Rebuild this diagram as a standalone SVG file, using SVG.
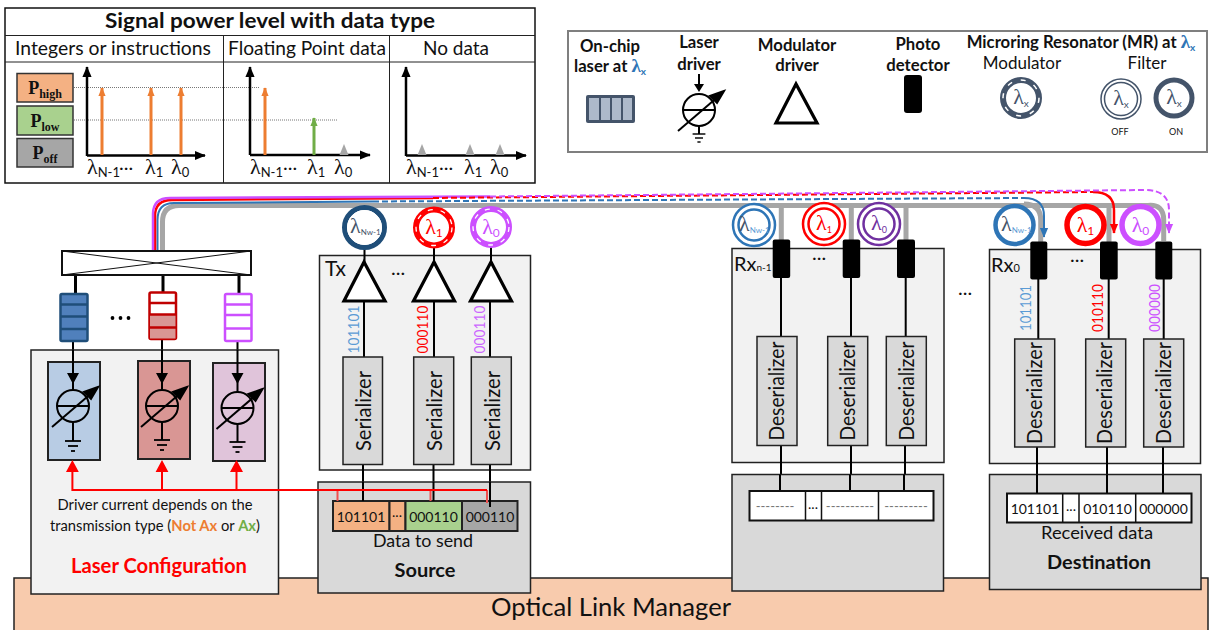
<svg xmlns="http://www.w3.org/2000/svg" xmlns:xlink="http://www.w3.org/1999/xlink" width="1211" height="630" viewBox="0 0 1211 630">
<style>
text{font-family:Lato,"Noto Sans","Liberation Sans",sans-serif;fill:#111}
.m{text-anchor:middle}
.b{font-weight:700}
.hd{font-size:20px}
.lg{font-size:16.7px;font-weight:700;text-anchor:middle}
.lam{font-family:"Liberation Serif","DejaVu Serif",serif;font-size:22px}
.sub{font-size:13px;font-family:Lato,sans-serif}
.p{font-family:"Liberation Serif",serif;font-weight:700;font-size:18px;text-anchor:middle}
.p tspan{font-size:12px}
.box{fill:#f2f2f2;stroke:#222;stroke-width:1.5}
.gbox{fill:#d9d9d9;stroke:#222;stroke-width:1.5}
.ser{fill:#d9d9d9;stroke:#222;stroke-width:1.5}
.rt{font-size:21px;text-anchor:middle}
.ax{fill:none;stroke:#000;stroke-width:2.5}
.tri{fill:#fff;stroke:#000;stroke-width:3.2;stroke-linejoin:miter}
.pd{fill:#000}
.gw{fill:none;stroke:#a6a6a6;stroke-width:5}
.dat{font-size:14px;text-anchor:middle}
.dots{font-size:20px}
.ln{stroke:#000;stroke-width:2;fill:none}
.dot{stroke:#777;stroke-width:1;stroke-dasharray:1 1;fill:none}
.cell{stroke:#222;stroke-width:2}
.ring{font-family:"Liberation Serif",serif;font-size:22px}
.rs{font-family:Lato,sans-serif}
</style>
<defs>
<marker id="aK" markerUnits="userSpaceOnUse" markerWidth="11" markerHeight="13" refX="12" refY="5.5" orient="auto" viewBox="0 0 13 11"><path d="M0,0L13,5.5L0,11z" fill="#000"/></marker>
<marker id="aO" markerUnits="userSpaceOnUse" markerWidth="9" markerHeight="11" refX="10" refY="4.5" orient="auto" viewBox="0 0 11 9"><path d="M0,0L11,4.5L0,9z" fill="#ed7d31"/></marker>
<marker id="aG" markerUnits="userSpaceOnUse" markerWidth="9" markerHeight="11" refX="10" refY="4.5" orient="auto" viewBox="0 0 11 9"><path d="M0,0L11,4.5L0,9z" fill="#70ad47"/></marker>
<marker id="aB" markerUnits="userSpaceOnUse" markerWidth="10" markerHeight="12" refX="11" refY="5" orient="auto" viewBox="0 0 12 10"><path d="M0,0L12,5L0,10z" fill="#2e75b6"/></marker>
<marker id="aP" markerUnits="userSpaceOnUse" markerWidth="10" markerHeight="12" refX="11" refY="5" orient="auto" viewBox="0 0 12 10"><path d="M0,0L12,5L0,10z" fill="#cc4fff"/></marker>
<marker id="aS" markerUnits="userSpaceOnUse" markerWidth="10" markerHeight="12" refX="11" refY="5" orient="auto" viewBox="0 0 12 10"><path d="M0,0L12,5L0,10z" fill="#f00"/></marker>
<polygon id="off" points="0,-11 4.5,0 -4.5,0" fill="#a6a6a6"/>
<g id="drv" fill="none" stroke="#000" stroke-width="2"><circle r="16"/><line x1="-16" x2="16"/><line x1="-21" y1="21" x2="21" y2="-15"/><path d="M25,-19L11,-14L18,-7z" fill="#000"/></g>
<g id="gnd" stroke="#000" stroke-width="1.8" fill="none"><line x1="-8" x2="8"/><line x1="-5" x2="5" y1="5" y2="5"/><line x1="-2" x2="2" y1="10" y2="10"/></g>
</defs>

<g id="manager"><rect x="14" y="578" width="1194" height="60" fill="#f8cbad" stroke="#222" stroke-width="1.5"/><text x="611" y="616" class="m" font-size="25" textLength="240" lengthAdjust="spacingAndGlyphs">Optical Link Manager</text></g>

<g id="power-table">
<rect x="5" y="8" width="530" height="175" fill="#fff" stroke="#111" stroke-width="1.5"/>
<path d="M5,35.500H535M5,62H535M223.500,35.500V183M389.500,35.500V183" stroke="#222" stroke-width="1" fill="none"/>
<text x="270" y="28" class="m b" font-size="21" textLength="330" lengthAdjust="spacingAndGlyphs">Signal power level with data type</text>
<text x="113" y="55" class="m hd" textLength="196" lengthAdjust="spacingAndGlyphs">Integers or instructions</text>
<text x="307" y="55" class="m hd" textLength="158" lengthAdjust="spacingAndGlyphs">Floating Point data</text>
<text x="456" y="55" class="m hd" textLength="66" lengthAdjust="spacingAndGlyphs">No data</text>
<rect x="17" y="73.500" width="56" height="28.500" fill="#f4b183" stroke="#333" stroke-width="1.5"/>
<rect x="17" y="106" width="56" height="29" fill="#a9d18e" stroke="#333" stroke-width="1.5"/>
<rect x="17" y="138.500" width="56" height="28.500" fill="#a6a6a6" stroke="#333" stroke-width="1.5"/>
<text x="45" y="94" class="p">P<tspan dy="4">high</tspan></text>
<text x="45" y="127" class="p">P<tspan dy="4">low</tspan></text>
<text x="45" y="159" class="p">P<tspan dy="4">off</tspan></text>
<path class="dot" d="M74,87.500H259M74,120H337"/>
<path class="ax" marker-end="url(#aK)" d="M87,156V67"/><path class="ax" marker-end="url(#aK)" d="M87,155.500H205"/>
<path class="ax" marker-end="url(#aK)" d="M250,155V67"/><path class="ax" marker-end="url(#aK)" d="M250,155H370"/>
<path class="ax" marker-end="url(#aK)" d="M406,156V67"/><path class="ax" marker-end="url(#aK)" d="M406,155.500H526"/>
<g fill="none" stroke="#ed7d31" stroke-width="3" marker-end="url(#aO)"><path d="M102,155V88"/><path d="M151,155V88"/><path d="M181,155V88"/><path d="M265,155V88"/></g>
<path d="M314,155V118" fill="none" stroke="#70ad47" stroke-width="3" marker-end="url(#aG)"/>
<use xlink:href="#off" href="#off" x="344" y="155"/><use xlink:href="#off" href="#off" x="422" y="155"/><use xlink:href="#off" href="#off" x="470" y="155"/><use xlink:href="#off" href="#off" x="500" y="155"/>
<text x="87" y="174" class="lam">λ<tspan class="sub" dy="3">N-1</tspan></text><text x="119" y="170" class="dots">...</text><text x="145" y="174" class="lam">λ<tspan class="sub" dy="3">1</tspan></text><text x="171" y="174" class="lam">λ<tspan class="sub" dy="3">0</tspan></text>
<text x="250" y="174" class="lam">λ<tspan class="sub" dy="3">N-1</tspan></text><text x="283" y="170" class="dots">...</text><text x="307" y="174" class="lam">λ<tspan class="sub" dy="3">1</tspan></text><text x="334" y="174" class="lam">λ<tspan class="sub" dy="3">0</tspan></text>
<text x="406" y="174" class="lam">λ<tspan class="sub" dy="3">N-1</tspan></text><text x="439" y="170" class="dots">...</text><text x="464" y="174" class="lam">λ<tspan class="sub" dy="3">1</tspan></text><text x="490" y="174" class="lam">λ<tspan class="sub" dy="3">0</tspan></text>
</g>

<g id="legend">
<rect x="568" y="31" width="639" height="121" fill="#fff" stroke="#7f7f7f" stroke-width="2"/>
<text x="610" y="52" class="lg">On-chip</text>
<text x="610" y="72" class="lg">laser at <tspan class="lam" style="font-weight:700;fill:#2e75b6;font-size:19px">λ</tspan><tspan style="fill:#2e75b6" font-size="10" dy="3">x</tspan></text>
<rect x="586" y="95" width="49" height="28" rx="2" fill="#44546a"/>
<g fill="#adb9ca"><rect x="589" y="98" width="10" height="22"/><rect x="601" y="98" width="9" height="22"/><rect x="612" y="98" width="9" height="22"/><rect x="623" y="98" width="9" height="22"/></g>
<text x="699" y="48" class="lg">Laser</text><text x="699" y="70" class="lg">driver</text>
<path class="ln" d="M699,74V87"/><path d="M694,84H704L699,92z" fill="#000"/>
<use xlink:href="#drv" href="#drv" transform="translate(699,110)"/>
<path class="ln" d="M699,126V134"/><use xlink:href="#gnd" href="#gnd" transform="translate(699,134) scale(0.8)"/>
<text x="797" y="51" class="lg">Modulator</text><text x="797" y="71" class="lg">driver</text>
<polygon class="tri" points="796,84 776,123 817,123"/>
<text x="918" y="50" class="lg">Photo</text><text x="918" y="71" class="lg">detector</text>
<rect class="pd" x="904" y="75" width="18" height="38" rx="3"/>
<text x="1081" y="48" class="lg">Microring Resonator (MR) at <tspan class="lam" style="font-weight:700;fill:#2e75b6;font-size:19px">λ</tspan><tspan style="fill:#2e75b6" font-size="10" dy="3">x</tspan></text>
<text x="1022" y="69" class="m" font-size="17">Modulator</text><text x="1147" y="69" class="m" font-size="17">Filter</text>
<circle cx="1021" cy="98" r="18" fill="#fff" stroke="#44546a" stroke-width="6"/><circle cx="1021" cy="98" r="18" fill="none" stroke="#fff" stroke-width="1.5" stroke-dasharray="5 9"/>
<text x="1021" y="104" class="m ring" style="fill:#44546a">λ<tspan class="rs" font-size="10" dy="3">x</tspan></text>
<circle cx="1121" cy="99" r="20" fill="#fff" stroke="#44546a" stroke-width="1.5"/><circle cx="1121" cy="99" r="16.500" fill="none" stroke="#44546a" stroke-width="1.5"/>
<text x="1121" y="105" class="m ring" style="fill:#44546a">λ<tspan class="rs" font-size="10" dy="3">x</tspan></text>
<circle cx="1174" cy="98" r="18" fill="#fff" stroke="#44546a" stroke-width="5"/>
<text x="1174" y="104" class="m ring" style="fill:#44546a">λ<tspan class="rs" font-size="10" dy="3">x</tspan></text>
<text x="1120" y="135" class="m" font-size="9">OFF</text><text x="1176" y="135" class="m" font-size="9">ON</text>
</g>

<g id="tx-box"><rect class="box" x="319.500" y="255.500" width="211" height="214.500"/><text x="325" y="276" font-size="21">Tx</text><text x="391" y="275" class="dots">...</text></g>
<g id="rx1-box"><rect class="box" x="732" y="248.500" width="212" height="214"/><text x="734" y="271" font-size="20">Rx<tspan font-size="10">n-1</tspan></text><text x="812" y="260" class="dots">...</text></g>
<g id="rx0-box"><rect class="box" x="989.500" y="249.500" width="211" height="214"/><text x="991" y="272" font-size="20">Rx<tspan font-size="11">0</tspan></text><text x="1070" y="262" class="dots">...</text></g>
<text x="958" y="295" class="dots">...</text>

<g id="connectors">
<path class="gw" d="M162.500,251V222Q162.500,205.500 179,205.500H1148Q1163.700,204 1163.700,220V241M781.300,205V240M851.300,205V240M906,205V240M1024,204Q1040.700,204 1040.700,220V242M1109,204V242"/>
<path fill="none" stroke="#2e75b6" stroke-width="2" d="M157.500,251V220Q157.500,203 174,203L373,201.500"/>
<path fill="none" stroke="#f00" stroke-width="2.500" d="M155,251V216Q155,200 172,200L433,198"/>
<path fill="none" stroke="#cc4fff" stroke-width="2.500" d="M153,251V214Q153,198 170,198L490,196.500"/>
<path fill="none" stroke="#2e75b6" stroke-width="2" stroke-dasharray="6 3" d="M373,201.500L1024,198"/>
<path fill="none" stroke="#2e75b6" stroke-width="2" marker-end="url(#aB)" d="M1024,198Q1044,198 1044,216V237"/>
<path fill="none" stroke="#f00" stroke-width="2" stroke-dasharray="6 3" d="M433,198L1093,192"/>
<path fill="none" stroke="#f00" stroke-width="2.500" marker-end="url(#aS)" d="M1093,192Q1114,192 1114,210V233"/>
<path fill="none" stroke="#cc4fff" stroke-width="2" stroke-dasharray="6 3" d="M490,196.500L1145,190Q1169,190 1169,210V233"/>
<path fill="none" stroke="#cc4fff" stroke-width="2" marker-end="url(#aP)" d="M1169,222V233"/>
<g stroke="#000" fill="none">
<path stroke-width="3" d="M75.500,275V293M163,275V292M239,275V294"/>
<path stroke-width="2" d="M73,341V350M162,339V350M237.500,341V350"/>
<path stroke-width="2" d="M364.500,248V262M434,248V262M491,247V262M364,301V357M434,301V357M490,301V357M363,464V501M433.500,464V501M490,464V507"/>
<path stroke-width="2" d="M781,277V337M851,277V337M905.700,277V337M1038.300,279V339M1108.700,279V339M1163.700,279V339M781,445V491M851,445V491M905,445V491M1037,447V494M1107,447V494M1163,447V494"/>
</g>
</g>

<g id="coupler"><rect x="62" y="251" width="189" height="24" fill="#fff" stroke="#111" stroke-width="2"/><path d="M62,275L251,251M62,251L251,275" stroke="#111" stroke-width="1"/></g>
<g id="queue-blue"><rect x="60.500" y="294" width="27" height="47" rx="1.500" fill="#5080bc" stroke="#1f4e79" stroke-width="2.500"/><path d="M60.500,304.500H87.500M60.500,316.500H87.500M60.500,329H87.500" stroke="#1f4e79" stroke-width="2.500"/></g>
<g id="queue-red"><rect x="149.500" y="292.500" width="26.500" height="46.500" rx="1.500" fill="#fff" stroke="#c00000" stroke-width="2.500"/><rect x="150" y="315" width="25.500" height="23.500" fill="#d99694"/><path d="M149.500,303H176M149.500,314.500H176M149.500,327.500H176" stroke="#c00000" stroke-width="2.500"/></g>
<g id="queue-purple"><rect x="225" y="294" width="26.500" height="47" rx="1.500" fill="#fff" stroke="#cc4fff" stroke-width="2.500"/><path d="M225,304.500H251.500M225,315H251.500M225,328.500H251.500" stroke="#cc4fff" stroke-width="2.500"/></g>
<g id="queue-dots" fill="#000"><circle cx="112.500" cy="318" r="1.900"/><circle cx="120.500" cy="318" r="1.900"/><circle cx="128.500" cy="318" r="1.900"/></g>

<g id="laser-config">
<rect class="box" x="31" y="350" width="247.500" height="244"/>
<rect x="48" y="362" width="52" height="98" fill="#b8cce4" stroke="#222" stroke-width="2"/>
<rect x="138" y="361" width="52" height="98" fill="#d99694" stroke="#222" stroke-width="2"/>
<rect x="213" y="363" width="52" height="98" fill="#e0c4da" stroke="#222" stroke-width="2"/>
<path class="ln" d="M73,350V390M162,350V390M237.500,350V392M73,422V441M162,422V440M237.500,424V442"/>
<path d="M67,373H79L73,384zM156,373H168L162,384zM231.500,373H243.500L237.500,384z" fill="#000"/>
<use xlink:href="#drv" href="#drv" transform="translate(73,406)"/><use xlink:href="#drv" href="#drv" transform="translate(162,406)"/><use xlink:href="#drv" href="#drv" transform="translate(237.500,408)"/>
<use xlink:href="#gnd" href="#gnd" transform="translate(73,441)"/><use xlink:href="#gnd" href="#gnd" transform="translate(162,440)"/><use xlink:href="#gnd" href="#gnd" transform="translate(237.500,442)"/>
<text x="155" y="510" class="m" font-size="14.500" textLength="195" lengthAdjust="spacingAndGlyphs">Driver current depends on the</text>
<text x="155" y="531" class="m" font-size="14.500" textLength="210" lengthAdjust="spacingAndGlyphs">transmission type (<tspan style="fill:#ed7d31;font-weight:700">Not Ax</tspan> or <tspan style="fill:#70ad47;font-weight:700">Ax</tspan>)</text>
<text x="159" y="573" class="m b" font-size="20" style="fill:#f00" textLength="176" lengthAdjust="spacingAndGlyphs">Laser Configuration</text>
</g>

<g id="tx-rings">
<circle cx="364.500" cy="227.500" r="20" fill="#fff" stroke="#1f4e79" stroke-width="5"/><circle cx="364.500" cy="227.500" r="17" fill="none" stroke="#fff" stroke-width="1"/>
<text x="350" y="233" style="fill:#44546a" class="ring">λ<tspan class="rs" font-size="8" dy="2">Nw-1</tspan></text>
<circle cx="434" cy="227.500" r="18" fill="#fff" stroke="#f00" stroke-width="6"/><circle cx="434" cy="227.500" r="18" fill="none" stroke="#fff" stroke-width="1.300" stroke-dasharray="5 8"/>
<text x="434" y="234" class="m ring" style="fill:#f00">λ<tspan class="rs" font-size="12" dy="3">1</tspan></text>
<circle cx="491" cy="227" r="18" fill="#fff" stroke="#cc4fff" stroke-width="6"/><circle cx="491" cy="227" r="18" fill="none" stroke="#fff" stroke-width="1.300" stroke-dasharray="5 8"/>
<text x="491" y="234" class="m ring" style="fill:#cc4fff">λ<tspan class="rs" font-size="12" dy="3">0</tspan></text>
</g>
<g id="tx-drivers"><polygon class="tri" points="364,262 344,301 385,301"/><polygon class="tri" points="434,262 413.500,301 454.500,301"/><polygon class="tri" points="491,262 470.500,301 511.500,301"/>
<g font-size="16">
<text transform="translate(358.500,329.500) rotate(-90)" class="m" style="fill:#5b9bd5" textLength="48" lengthAdjust="spacingAndGlyphs">101101</text>
<text transform="translate(428,329.500) rotate(-90)" class="m" style="fill:#f00" textLength="48" lengthAdjust="spacingAndGlyphs">000110</text>
<text transform="translate(484.500,329.500) rotate(-90)" class="m" style="fill:#cc66ff" textLength="48" lengthAdjust="spacingAndGlyphs">000110</text></g></g>
<g id="serializers">
<rect class="ser" x="343" y="357" width="39.500" height="107.500"/><rect class="ser" x="413.700" y="357" width="40" height="107.500"/><rect class="ser" x="471.300" y="357" width="40" height="107.500"/>
<text transform="translate(371,411) rotate(-90)" class="rt" textLength="80" lengthAdjust="spacingAndGlyphs">Serializer</text>
<text transform="translate(442,411) rotate(-90)" class="rt" textLength="80" lengthAdjust="spacingAndGlyphs">Serializer</text>
<text transform="translate(499.500,411) rotate(-90)" class="rt" textLength="80" lengthAdjust="spacingAndGlyphs">Serializer</text>
</g>

<g id="source">
<rect class="gbox" x="318" y="482" width="212.500" height="111"/>
<rect class="cell" x="333" y="501" width="56.500" height="30" fill="#f4b183"/><rect class="cell" x="389.500" y="501" width="16" height="30" fill="#f4b183"/><rect class="cell" x="405.500" y="501" width="56.500" height="30" fill="#a9d18e"/><rect class="cell" x="462" y="501" width="55.500" height="30" fill="#a6a6a6"/>
<path class="ln" d="M363,482V501M433.500,482V501M490,482V507"/>
<text x="361" y="522" class="dat">101101</text><text x="397" y="517" class="dat">...</text><text x="433.500" y="522" class="dat">000110</text><text x="490" y="522" class="dat">000110</text>
<text x="423" y="547" class="m" font-size="17" textLength="100" lengthAdjust="spacingAndGlyphs">Data to send</text>
<text x="425" y="577" class="m b" font-size="19" textLength="61" lengthAdjust="spacingAndGlyphs">Source</text>
</g>

<g id="connectors-feedback">
<path fill="none" stroke="#f05050" stroke-width="2" d="M337.500,490V501M430.500,490V501M487,490V503"/>
<path fill="none" stroke="#f00" stroke-width="2" d="M72.400,468V490H487M162,490V468M236.500,490V468"/>
<path d="M66,472L72.400,460L78.800,472zM155.600,472L162,460L168.400,472zM230,472L236.500,460L243,472z" fill="#f00"/>
</g>

<g id="rx1-rings">
<circle cx="754" cy="225" r="21" fill="#fff" stroke="#2e75b6" stroke-width="2.500"/><circle cx="754" cy="225" r="15.500" fill="none" stroke="#2e75b6" stroke-width="2.500"/>
<text x="739" y="231" class="ring" style="fill:#44546a">λ<tspan class="rs" font-size="8" dy="2" style="fill:#5b9bd5">Nw-1</tspan></text>
<circle cx="824" cy="224" r="21" fill="#fff" stroke="#f00" stroke-width="2.500"/><circle cx="824" cy="224" r="15.500" fill="none" stroke="#f00" stroke-width="2.500"/>
<text x="824" y="230" class="m ring" style="fill:#f00">λ<tspan class="rs" font-size="9" dy="3">1</tspan></text>
<circle cx="879" cy="224" r="21" fill="#fff" stroke="#7030a0" stroke-width="2.500"/><circle cx="879" cy="224" r="15.500" fill="none" stroke="#7030a0" stroke-width="2.500"/>
<text x="879" y="230" class="m ring" style="fill:#7030a0">λ<tspan class="rs" font-size="9" dy="3">0</tspan></text>
</g>
<g id="rx1-detectors"><rect class="pd" x="772.700" y="239.500" width="17.500" height="38.500" rx="2"/><rect class="pd" x="842.700" y="239.500" width="17.500" height="38.500" rx="2"/><rect class="pd" x="897" y="239.500" width="18" height="38.500" rx="2"/></g>
<g id="rx1-deserializers">
<rect class="ser" x="757" y="336.500" width="40" height="109"/><rect class="ser" x="827.700" y="336.500" width="40" height="109"/><rect class="ser" x="886.300" y="336.500" width="40" height="109"/>
<text transform="translate(784,391) rotate(-90)" class="rt" textLength="99" lengthAdjust="spacingAndGlyphs">Deserializer</text>
<text transform="translate(855,391) rotate(-90)" class="rt" textLength="99" lengthAdjust="spacingAndGlyphs">Deserializer</text>
<text transform="translate(913.700,391) rotate(-90)" class="rt" textLength="99" lengthAdjust="spacingAndGlyphs">Deserializer</text>
</g>
<g id="rx1-store">
<rect class="gbox" x="732" y="474.500" width="211.500" height="116.500"/>
<path class="ln" d="M780,474.500V491M850,474.500V491M904,474.500V491"/>
<rect x="749.500" y="491" width="184" height="29.500" fill="#fff" stroke="#111" stroke-width="2"/>
<path d="M805.500,491V520.500M821.500,491V520.500M878.500,491V520.500" stroke="#111" stroke-width="1.500"/>
<text x="775" y="511" class="m" font-size="13" style="fill:#777">--------</text><text x="850" y="511" class="m" font-size="13" style="fill:#777">----------</text><text x="906" y="511" class="m" font-size="13" style="fill:#777">---------</text>
<text x="813" y="509" class="dat">...</text>
</g>

<g id="rx0-rings">
<circle cx="1014.500" cy="225" r="19" fill="#fff" stroke="#2e75b6" stroke-width="4.500"/>
<text x="1001" y="231" class="ring" style="fill:#44546a">λ<tspan class="rs" font-size="8" dy="2" style="fill:#5b9bd5">Nw-1</tspan></text>
<circle cx="1085.500" cy="225" r="18.500" fill="#fff" stroke="#f00" stroke-width="5.500"/>
<text x="1085.500" y="232" class="m ring" style="fill:#f00">λ<tspan class="rs" font-size="12" dy="3">1</tspan></text>
<circle cx="1140.500" cy="225" r="18.500" fill="#fff" stroke="#cc4fff" stroke-width="5.500"/>
<text x="1140.500" y="232" class="m ring" style="fill:#cc4fff">λ<tspan class="rs" font-size="12" dy="3">0</tspan></text>
</g>
<g id="rx0-detectors"><rect class="pd" x="1030.300" y="241.500" width="17" height="38" rx="2"/><rect class="pd" x="1100" y="241.500" width="17.700" height="38" rx="2"/><rect class="pd" x="1155.300" y="241.500" width="17" height="38" rx="2"/>
<g font-size="16">
<text transform="translate(1031,308) rotate(-90)" class="m" style="fill:#5b9bd5" textLength="46" lengthAdjust="spacingAndGlyphs">101101</text>
<text transform="translate(1102.700,308) rotate(-90)" class="m" style="fill:#f00" textLength="48" lengthAdjust="spacingAndGlyphs">010110</text>
<text transform="translate(1160,308) rotate(-90)" class="m" style="fill:#cc4fff" textLength="48" lengthAdjust="spacingAndGlyphs">000000</text></g></g>
<g id="rx0-deserializers">
<rect class="ser" x="1014.700" y="339" width="40" height="108"/><rect class="ser" x="1085.700" y="339" width="40" height="108"/><rect class="ser" x="1143.700" y="339" width="40" height="108"/>
<text transform="translate(1041.700,393) rotate(-90)" class="rt" textLength="102" lengthAdjust="spacingAndGlyphs">Deserializer</text>
<text transform="translate(1111.700,393) rotate(-90)" class="rt" textLength="102" lengthAdjust="spacingAndGlyphs">Deserializer</text>
<text transform="translate(1171,393) rotate(-90)" class="rt" textLength="102" lengthAdjust="spacingAndGlyphs">Deserializer</text>
</g>
<g id="destination">
<rect class="gbox" x="989.500" y="474.500" width="211.500" height="115"/>
<path class="ln" d="M1037,474.500V494M1107,474.500V494M1163,474.500V494"/>
<rect x="1007" y="493.500" width="184.500" height="29" fill="#fff" stroke="#111" stroke-width="2"/>
<path d="M1062.700,493.500V522.500M1079,493.500V522.500M1135.700,493.500V522.500" stroke="#111" stroke-width="1.500"/>
<text x="1035" y="514" class="dat">101101</text><text x="1071" y="511" class="dat">...</text><text x="1107.500" y="514" class="dat">010110</text><text x="1163.500" y="514" class="dat">000000</text>
<text x="1097" y="539" class="m" font-size="17" textLength="112" lengthAdjust="spacingAndGlyphs">Received data</text>
<text x="1099" y="568.500" class="m b" font-size="19" textLength="104" lengthAdjust="spacingAndGlyphs">Destination</text>
</g>
</svg>
